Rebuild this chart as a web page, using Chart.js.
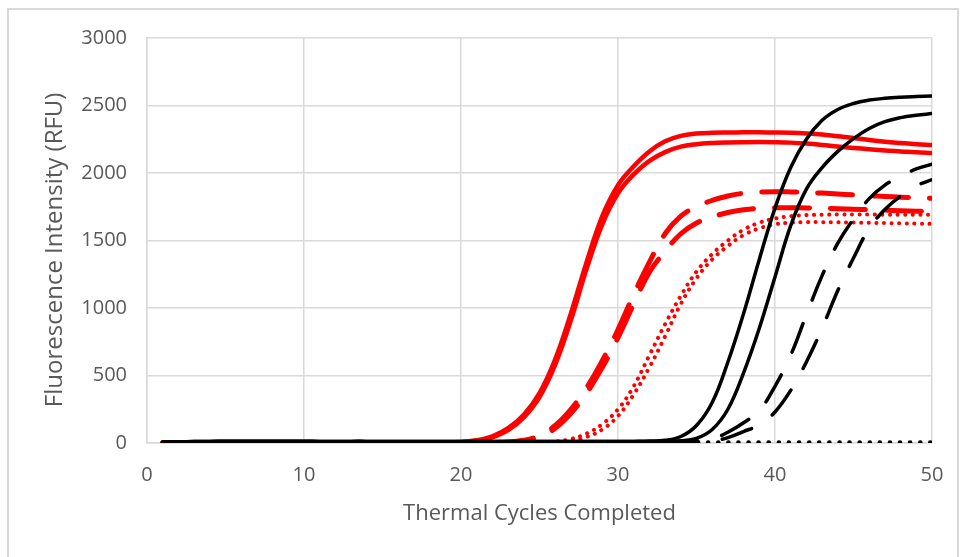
<!DOCTYPE html>
<html>
<head>
<meta charset="utf-8">
<script src="https://cdn.jsdelivr.net/npm/chart.js@4.4.1/dist/chart.umd.min.js"></script>
<style>
  html, body { margin: 0; padding: 0; background: #fff; }
  #wrap { position: relative; width: 964px; height: 557px; overflow: hidden; }
  #frame { position: absolute; left: 7px; top: 8px; width: 948px; height: 600px; border: 2px solid #d9d9d9; pointer-events: none; }
  canvas { position: absolute; left: 0; top: 0; }
</style>
</head>
<body>
<div id="wrap">
  <div id="frame"></div>
  <canvas id="mainChart" width="964" height="557"></canvas>
</div>
<script>
// Thermal cycle numbers (x values)
const cycles = [1, 2, 3, 4, 5, 6, 7, 8, 9, 10,
    11, 12, 13, 14, 15, 16, 17, 18, 19, 20,
    21, 22, 23, 24, 25, 26, 27, 28, 29, 30,
    31, 32, 33, 34, 35, 36, 37, 38, 39, 40,
    41, 42, 43, 44, 45, 46, 47, 48, 49, 50];

// Fluorescence (RFU), one value per cycle
const redSolidA = [1, 2, 3, 3, 3, 3, 3, 3, 3, 3,
    3, 3, 3, 3, 3, 3, 3, 3, 4, 8,
    20, 50, 110, 210, 370, 620, 960, 1340, 1680, 1910,
    2050, 2160, 2235, 2275, 2292, 2298, 2300, 2301, 2301, 2300,
    2298, 2293, 2285, 2272, 2260, 2245, 2232, 2222, 2213, 2207];
const redSolidB = [1, 2, 3, 3, 3, 3, 3, 3, 3, 3,
    3, 3, 3, 3, 3, 3, 3, 3, 4, 6,
    16, 42, 95, 190, 340, 580, 910, 1290, 1620, 1850,
    1990, 2090, 2155, 2195, 2213, 2222, 2226, 2228, 2229, 2228,
    2225, 2218, 2208, 2196, 2186, 2176, 2167, 2160, 2153, 2148];
const redDashA = [1, 2, 2, 2, 2, 2, 2, 2, 2, 2,
    2, 2, 2, 2, 2, 2, 2, 2, 2, 2,
    3, 4, 8, 20, 55, 130, 250, 410, 610, 840,
    1100, 1340, 1550, 1680, 1750, 1797, 1830, 1850, 1859, 1862,
    1860, 1856, 1851, 1845, 1838, 1832, 1826, 1821, 1817, 1813];
const redDashB = [1, 2, 2, 2, 2, 2, 2, 2, 2, 2,
    2, 2, 2, 2, 2, 2, 2, 2, 2, 2,
    2, 3, 6, 16, 45, 110, 220, 370, 560, 780,
    1030, 1265, 1420, 1550, 1630, 1675, 1707, 1728, 1739, 1743,
    1743, 1741, 1739, 1736, 1732, 1728, 1724, 1720, 1717, 1715];
const redDotA = [0, 0, 0, 0, 0, 0, 0, 0, 0, 0,
    0, 0, 0, 0, 0, 0, 0, 0, 0, 0,
    1, 1, 2, 3, 5, 10, 30, 70, 140, 250,
    420, 650, 880, 1090, 1270, 1400, 1500, 1580, 1632, 1663,
    1680, 1688, 1691, 1692, 1692, 1692, 1691, 1691, 1690, 1690];
const redDotB = [0, 0, 0, 0, 0, 0, 0, 0, 0, 0,
    0, 0, 0, 0, 0, 0, 0, 0, 0, 0,
    0, 1, 1, 2, 3, 6, 15, 45, 100, 200,
    360, 560, 790, 1030, 1220, 1360, 1460, 1540, 1590, 1620,
    1632, 1636, 1636, 1635, 1633, 1631, 1629, 1627, 1625, 1623];
const blackSolidA = [6, 9, 11, 12, 13, 13, 13, 13, 13, 13,
    12, 12, 12, 12, 11, 11, 11, 11, 11, 11,
    11, 11, 11, 11, 11, 11, 11, 11, 11, 11,
    12, 14, 20, 48, 130, 300, 600, 960, 1360, 1740,
    2040, 2250, 2390, 2470, 2515, 2540, 2553, 2561, 2566, 2570];
const blackSolidB = [6, 9, 11, 12, 13, 13, 13, 13, 13, 13,
    12, 12, 12, 12, 11, 11, 11, 11, 11, 11,
    11, 11, 11, 11, 11, 11, 11, 11, 11, 11,
    11, 11, 12, 16, 35, 100, 250, 520, 850, 1230,
    1610, 1880, 2040, 2160, 2255, 2330, 2380, 2410, 2428, 2440];
const blackDashA = [5, 7, 9, 10, 10, 10, 10, 10, 10, 10,
    9, 9, 9, 9, 9, 9, 9, 9, 9, 9,
    9, 9, 9, 9, 9, 9, 9, 9, 9, 9,
    9, 9, 9, 9, 14, 30, 80, 150, 240, 420,
    650, 950, 1240, 1480, 1660, 1810, 1910, 1975, 2030, 2065];
const blackDashB = [5, 7, 9, 10, 10, 10, 10, 10, 10, 10,
    9, 9, 9, 9, 9, 9, 9, 9, 9, 9,
    9, 9, 9, 9, 9, 9, 9, 9, 9, 9,
    9, 9, 9, 9, 9, 14, 40, 85, 135, 230,
    390, 600, 850, 1130, 1370, 1590, 1730, 1830, 1905, 1950];
const blackDot = [4, 4, 4, 4, 4, 4, 4, 4, 4, 4,
    4, 4, 4, 4, 4, 4, 4, 4, 4, 4,
    4, 4, 4, 4, 4, 4, 4, 4, 4, 4,
    4, 4, 4, 4, 4, 4, 4, 4, 4, 4,
    4, 4, 4, 4, 4, 4, 4, 4, 4, 4];

const gridColor = '#d9d9d9';
const textColor = '#595959';

// Pair each value with its cycle
function toPoints(values) {
    return values.map((v, i) => ({ x: cycles[i], y: v }));
}

// Build one smoothed line dataset
function makeLine(values, color, width, dash) {
    return {
        data: toPoints(values),
        borderColor: color,
        borderWidth: width,
        borderDash: dash,
        borderCapStyle: 'round',
        borderJoinStyle: 'round',
        pointRadius: 0,
        fill: false,
        tension: 0.4
    };
}

// First dataset is drawn on top, so black goes first
const datasets = [
    makeLine(blackDot, '#000000', 4.5, [0.1, 10]),
    makeLine(blackSolidA, '#000000', 3.5, []),
    makeLine(blackSolidB, '#000000', 3.5, []),
    makeLine(blackDashA, '#000000', 3.5, [31, 25]),
    makeLine(blackDashB, '#000000', 3.5, [31, 25]),
    makeLine(redSolidA, '#ff0000', 4.5, []),
    makeLine(redSolidB, '#ff0000', 4.5, []),
    makeLine(redDashA, '#ff0000', 5, [35, 21]),
    makeLine(redDashB, '#ff0000', 5, [35, 21]),
    makeLine(redDotA, '#ff0000', 4, [0.1, 7.5]),
    makeLine(redDotB, '#ff0000', 4, [0.1, 7.5])
];

const ctx = document.getElementById('mainChart').getContext('2d');
const chart = new Chart(ctx, {
    type: 'line',
    data: { datasets },
    options: {
        responsive: false,
        animation: false,
        events: [],
        layout: { padding: { left: 0, right: 32, top: 38, bottom: 0 } },
        plugins: {
            legend: { display: false },
            tooltip: { enabled: false }
        },
        scales: {
            x: {
                type: 'linear',
                min: 0,
                max: 50,
                afterFit: function(scale) { scale.height = 114; },
                ticks: {
                    stepSize: 10,
                    padding: 20,
                    color: textColor,
                    font: { family: 'Open Sans', size: 20 },
                    callback: value => String(value)
                },
                grid: { color: gridColor, lineWidth: 1.5, drawTicks: false },
                border: { color: gridColor, width: 1.5 },
                title: {
                    display: true,
                    text: 'Thermal Cycles Completed',
                    color: textColor,
                    font: { family: 'Open Sans', size: 22 },
                    padding: { top: 0, bottom: 30 }
                }
            },
            y: {
                min: 0,
                max: 3000,
                afterFit: function(scale) { scale.width = 147; },
                ticks: {
                    stepSize: 500,
                    padding: 20,
                    color: textColor,
                    font: { family: 'Open Sans', size: 20 },
                    callback: value => String(value)
                },
                grid: { color: gridColor, lineWidth: 1.5, drawTicks: false },
                border: { color: gridColor, width: 1.5 },
                title: {
                    display: true,
                    // trailing spaces nudge the rotated title down a little
                    text: 'Fluorescence Intensity (RFU)   ',
                    color: textColor,
                    font: { family: 'Open Sans', size: 24 },
                    padding: { top: 41, bottom: 0 }
                }
            }
        }
    }
});
</script>
</body>
</html>
